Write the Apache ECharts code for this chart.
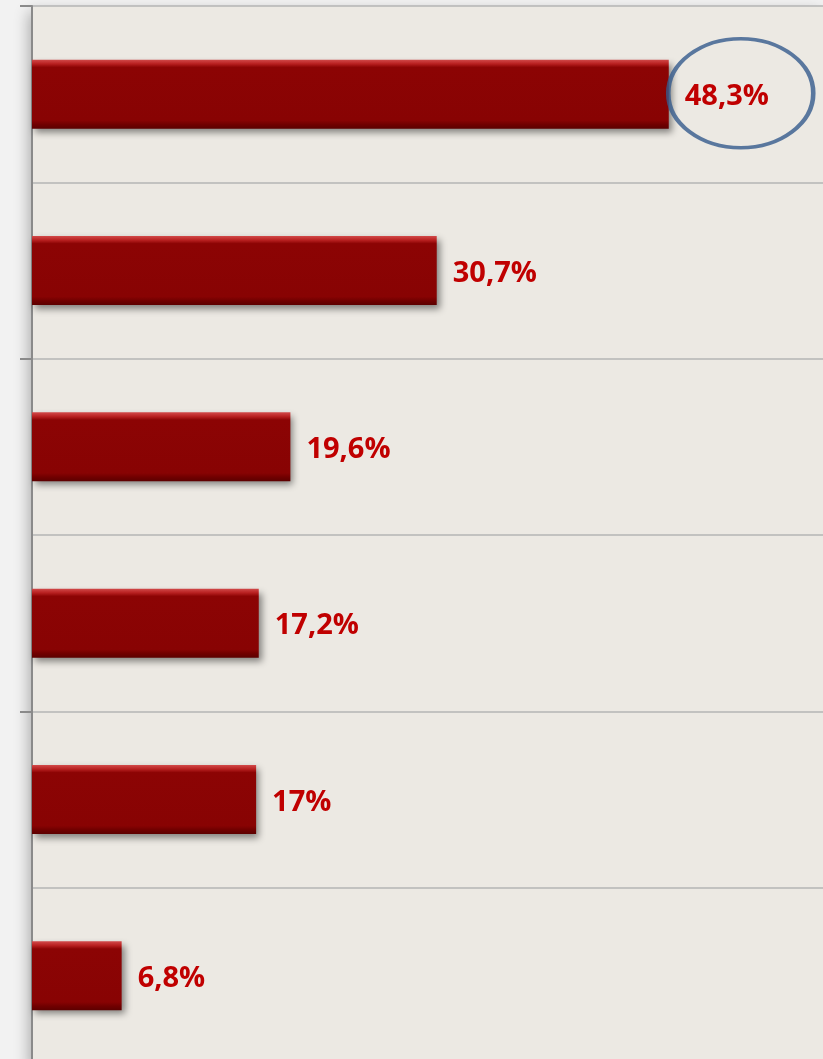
<!DOCTYPE html>
<html>
<head>
<meta charset="utf-8">
<script src="https://cdn.jsdelivr.net/npm/echarts@6/dist/echarts.min.js"></script>
<style>
html,body{margin:0;padding:0;background:#F2F2F2;overflow:hidden;}
#chart{width:823px;height:1070px;}
</style>
</head>
<body>
<div id="chart"></div>
<script>
const categories = ['Categoria 1', 'Categoria 2', 'Categoria 3', 'Categoria 4', 'Categoria 5', 'Categoria 6'];
const values = [48.3, 30.7, 19.6, 17.2, 17, 6.8];
const highlighted = [[48.3, 'Categoria 1']];

const chart = echarts.init(document.getElementById('chart'), null, {renderer: 'canvas'});
const fmt = v => String(v).replace('.', ',') + '%';

chart.setOption({
  backgroundColor: '#F2F2F2',
  animation: false,
  grid: {
    left: 32, right: 0, top: 6, height: 1058,
    show: true, backgroundColor: '#ECE9E3', borderWidth: 0,
    shadowColor: 'rgba(0,0,0,0.3)', shadowBlur: 14, shadowOffsetX: -3, shadowOffsetY: 6
  },
  xAxis: {
    type: 'value', min: 0, max: 60, show: false
  },
  yAxis: {
    type: 'category', data: categories, inverse: true,
    axisLine: {show: true, lineStyle: {color: '#8A8A8A', width: 2}},
    axisTick: {show: true, interval: 1, length: 12, lineStyle: {color: '#8A8A8A', width: 2}},
    axisLabel: {show: false},
    splitLine: {show: true, interval: 0, lineStyle: {color: '#B5B5B5', width: 1.5}}
  },
  series: [
    {
      type: 'bar', data: values, barWidth: 69, barCategoryGap: '60%',
      itemStyle: {
        color: {
          type: 'linear', x: 0, y: 0, x2: 0, y2: 1,
          colorStops: [
            {offset: 0, color: '#D24A4A'},
            {offset: 0.06, color: '#B82020'},
            {offset: 0.11, color: '#8C0404'},
            {offset: 0.88, color: '#880303'},
            {offset: 0.94, color: '#700000'},
            {offset: 1, color: '#5C0000'}
          ]
        },
        shadowColor: 'rgba(0,0,0,0.45)', shadowBlur: 7, shadowOffsetX: 3, shadowOffsetY: 4
      },
      label: {
        show: true, position: 'right', distance: 16, offset: [0, 3],
        formatter: p => fmt(p.value),
        color: '#C00000', fontFamily: 'Open Sans', fontWeight: 'bold', fontSize: 29
      }
    },
    {
      type: 'scatter', data: highlighted, symbol: 'circle',
      symbolSize: [145, 109], symbolOffset: [72, -1], z: 5,
      itemStyle: {color: 'rgba(0,0,0,0)', borderColor: '#345A8C', borderWidth: 4},
      silent: true
    }
  ]
});
</script>
</body>
</html>
